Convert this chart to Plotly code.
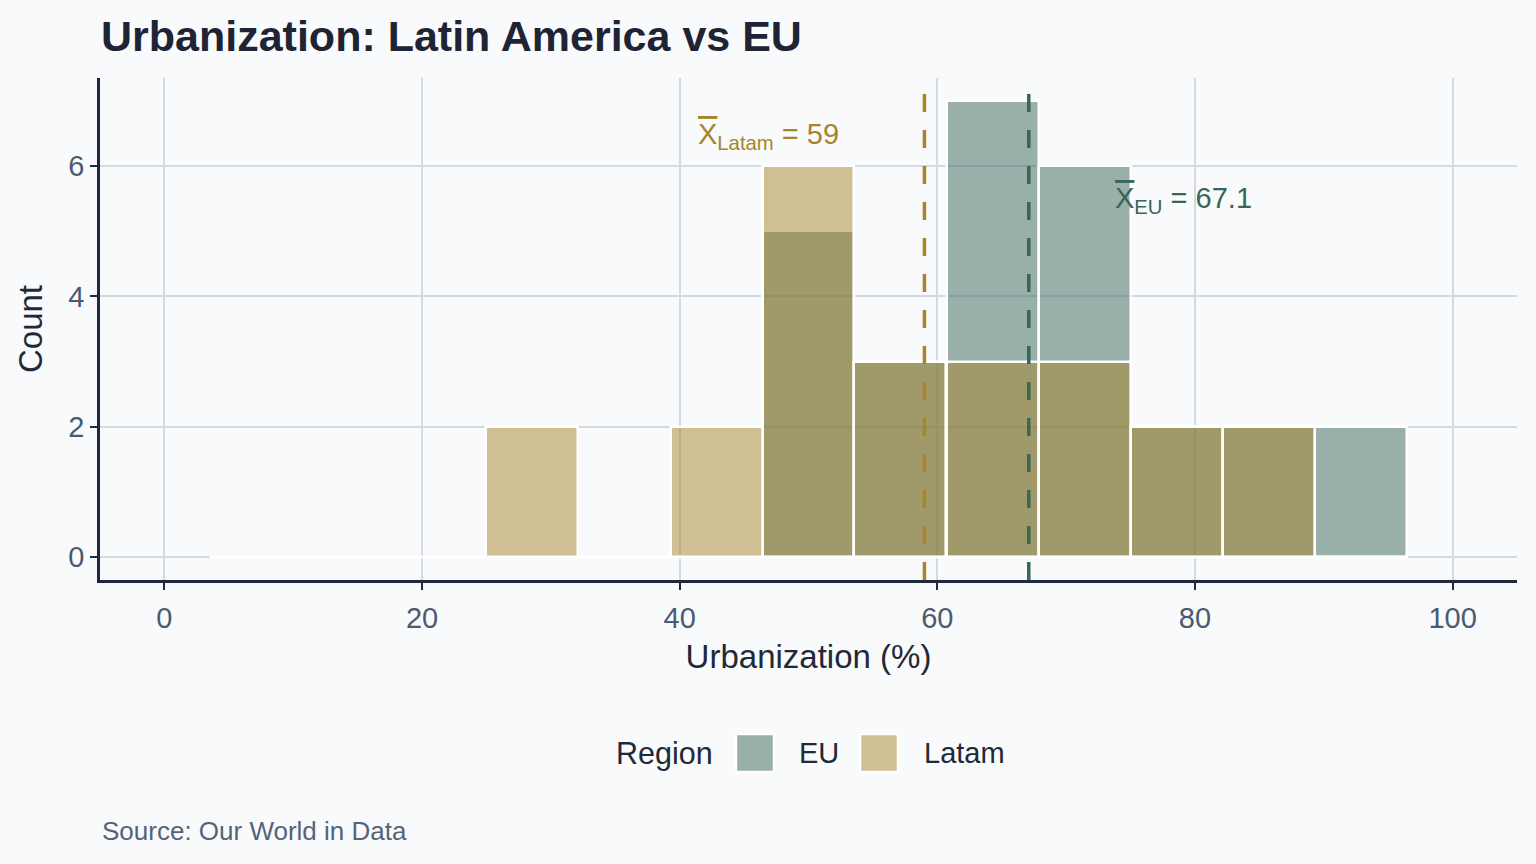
import plotly.graph_objects as go

# ---------------- data ----------------
bin_centers = [7.14, 14.29, 21.43, 28.57, 35.71, 42.86, 50.00, 57.14, 64.29, 71.43, 78.57, 85.71, 92.86]
bin_width = 7.14
eu_counts = [0, 0, 0, 0, 0, 0, 5, 3, 7, 6, 2, 2, 2]
latam_counts = [0, 0, 0, 2, 0, 2, 6, 3, 3, 3, 2, 2, 0]
regions = ["EU", "Latam"]
eu_mean = 67.1
latam_mean = 59.0
x_ticks = [0, 20, 40, 60, 80, 100]
y_ticks = [0, 2, 4, 6]

# ---------------- style ----------------
W, H = 1536, 864
L, R, T, B = 100, 1517, 78, 580
BG = "#F8FAFC"
EU_COL = "rgb(58,102,88)"
EU_FILL = "rgba(58,102,88,0.5)"
LA_COL = "rgb(168,132,42)"
LA_FILL = "rgba(168,132,42,0.5)"
AXIS_COL = "#1E293B"
TICK_COL = "#4B5A70"
TEXT_COL = "#1F2937"
GRID_COL = "#D5DAE2"
FONT = "Liberation Sans, Arial, Helvetica, sans-serif"


def px_x(px):
    return (px - L) / (R - L)


def px_y(py):
    return (B - py) / (B - T)


fig = go.Figure()

# white baseline of empty bins (ggplot draws zero-height bins)
edge_lo = bin_centers[0] - bin_width / 2
edge_hi = bin_centers[-1] + bin_width / 2
fig.add_trace(go.Scatter(x=[edge_lo, edge_hi], y=[0, 0], mode="lines",
                         line=dict(color="white", width=2.5),
                         hoverinfo="skip", showlegend=False))

fig.add_trace(go.Bar(x=bin_centers, y=eu_counts, width=bin_width, name=regions[0],
                     marker=dict(color=EU_FILL, line=dict(color="white", width=2.5)),
                     showlegend=False))
fig.add_trace(go.Bar(x=bin_centers, y=latam_counts, width=bin_width, name=regions[1],
                     marker=dict(color=LA_FILL, line=dict(color="white", width=2.5)),
                     showlegend=False))

# mean lines
for m, c in [(latam_mean, LA_COL), (eu_mean, EU_COL)]:
    fig.add_shape(type="line", xref="x", yref="paper", x0=m, x1=m, y0=0, y1=1,
                  line=dict(color=c, width=3.5, dash="18px,18px"), layer="above")

# mean labels
XBAR = '<span style="text-decoration:overline">X</span>'
fig.add_annotation(x=41.3, y=6.46, xref="x", yref="y", xanchor="left", yanchor="middle",
                   text=XBAR + "<sub>Latam</sub> = %g" % latam_mean, showarrow=False,
                   font=dict(family=FONT, size=29, color=LA_COL))
fig.add_annotation(x=73.6, y=5.48, xref="x", yref="y", xanchor="left", yanchor="middle",
                   text=XBAR + "<sub>EU</sub> = %g" % eu_mean, showarrow=False,
                   font=dict(family=FONT, size=29, color=EU_COL))

# manual legend (ggplot-style big keys)
leg_y = 753
fig.add_annotation(x=px_x(614), y=px_y(leg_y), xref="paper", yref="paper", xanchor="left",
                   yanchor="middle", text="Region", showarrow=False,
                   font=dict(family=FONT, size=30.5, color=TEXT_COL))
for (k0, tx, label, fill) in [(736, 797, regions[0], EU_FILL), (860, 922, regions[1], LA_FILL)]:
    fig.add_shape(type="rect", xref="paper", yref="paper",
                  x0=px_x(k0), x1=px_x(k0 + 38), y0=px_y(leg_y + 19), y1=px_y(leg_y - 19),
                  fillcolor=fill, line=dict(color="white", width=2.5))
    fig.add_annotation(x=px_x(tx), y=px_y(leg_y), xref="paper", yref="paper", xanchor="left",
                       yanchor="middle", text=label, showarrow=False,
                       font=dict(family=FONT, size=29, color=TEXT_COL))

# caption
fig.add_annotation(x=px_x(100), y=px_y(831), xref="paper", yref="paper", xanchor="left",
                   yanchor="middle", text="Source: Our World in Data", showarrow=False,
                   font=dict(family=FONT, size=26, color="#556378"))

fig.update_layout(
    width=W, height=H,
    margin=dict(l=L, r=W - R, t=T, b=H - B, pad=0),
    paper_bgcolor=BG, plot_bgcolor=BG,
    barmode="overlay",
    bargap=0,
    font=dict(family=FONT, color=TEXT_COL),
    title=dict(text="Urbanization: Latin America vs EU", x=101 / W, xanchor="left",
               xref="container", yref="container", y=1 - 36 / H, yanchor="middle",
               font=dict(family=FONT, size=43, color="#1E2433", weight="bold")),
    xaxis=dict(range=[-5, 105], tickvals=x_ticks, ticks="outside", ticklen=7, tickwidth=2,
               tickcolor=AXIS_COL, showline=True, linecolor=AXIS_COL, linewidth=2.5,
               showgrid=True, gridcolor=GRID_COL, gridwidth=1.5, zeroline=False,
               ticklabelstandoff=3,
               tickfont=dict(family=FONT, size=29, color=TICK_COL),
               title=dict(text="Urbanization (%)", standoff=13,
                          font=dict(family=FONT, size=33, color=TEXT_COL))),
    yaxis=dict(range=[-0.35, 7.35], tickvals=y_ticks, ticks="outside", ticklen=7, tickwidth=2,
               tickcolor=AXIS_COL, showline=True, linecolor=AXIS_COL, linewidth=2.5,
               showgrid=True, gridcolor=GRID_COL, gridwidth=1.5, zeroline=False,
               tickfont=dict(family=FONT, size=29, color=TICK_COL),
               title=dict(text="Count", standoff=16,
                          font=dict(family=FONT, size=33, color=TEXT_COL))),
)

fig.write_html("out.html", config={"displayModeBar": False},
               post_script="document.body.style.margin='0';")
